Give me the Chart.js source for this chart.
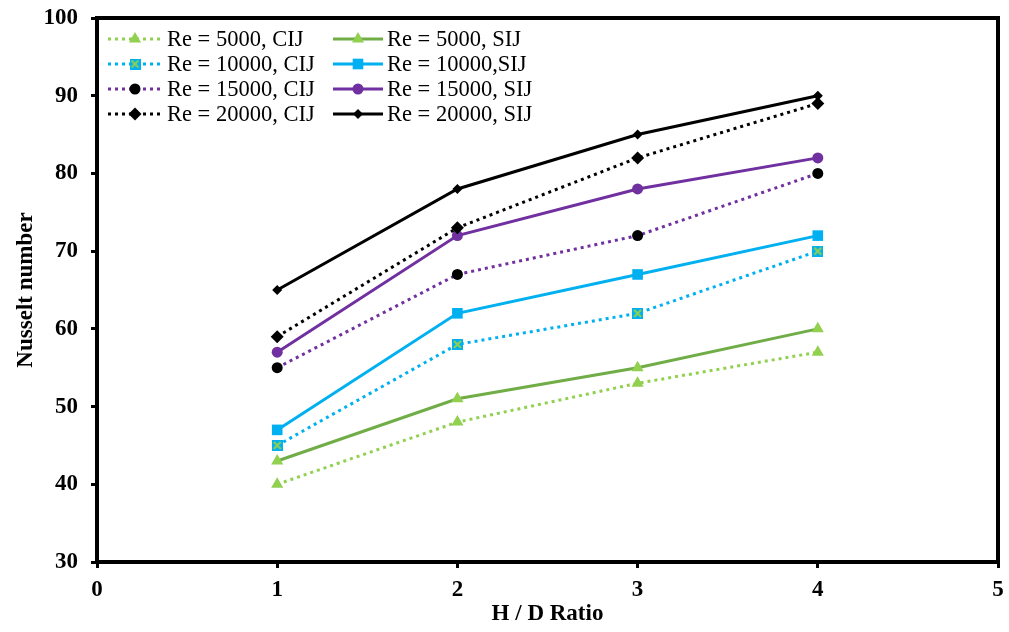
<!DOCTYPE html>
<html>
<head>
<meta charset="utf-8">
<script src="https://cdn.jsdelivr.net/npm/chart.js@4"></script>
<style>
  html, body { margin: 0; padding: 0; background: #fff; }
  #wrap { width: 1009px; height: 632px; position: relative; }
</style>
</head>
<body>
<div id="wrap"><canvas id="nuChart" width="1009" height="632"></canvas></div>
<script>
// H/D ratio positions
const hdRatio = [1, 2, 3, 4];

// Nusselt number readings (CIJ = dotted, SIJ = solid)
const re5000CIJ = [40, 48, 53, 57];
const re5000SIJ = [43, 51, 55, 60];
const re10000CIJ = [45, 58, 62, 70];
const re10000SIJ = [47, 62, 67, 72];
const re15000CIJ = [55, 67, 72, 80];
const re15000SIJ = [57, 72, 78, 82];
const re20000CIJ = [59, 73, 82, 89];
const re20000SIJ = [65, 78, 85, 90];

const xTicks = [0, 1, 2, 3, 4, 5];
const yTicks = [30, 40, 50, 60, 70, 80, 90, 100];

const FONT = "'Liberation Serif', 'Times New Roman', serif";

// square marker with green cross for Re = 10000, CIJ
function crossSquare() {
    const c = document.createElement('canvas');
    c.width = 11; c.height = 11;
    const g = c.getContext('2d');
    g.fillStyle = '#00B0F0';
    g.fillRect(0, 0, 11, 11);
    g.strokeStyle = '#92D050';
    g.lineWidth = 2;
    g.beginPath();
    g.moveTo(2, 2); g.lineTo(9, 9);
    g.moveTo(9, 2); g.lineTo(2, 9);
    g.stroke();
    return c;
}
const crossImg = crossSquare();

function pts(values) {
    return values.map((v, i) => ({ x: hdRatio[i], y: v }));
}

function series(label, values, color, markerColor, style, radius, dotted) {
    return {
        label: label,
        data: pts(values),
        borderColor: color,
        backgroundColor: markerColor,
        pointBackgroundColor: markerColor,
        pointBorderColor: markerColor,
        pointBorderWidth: 0,
        pointStyle: style,
        pointRadius: radius,
        borderWidth: 3,
        borderDash: dotted ? [3, 4] : [],
        tension: 0
    };
}

const datasets = [
    series('Re = 5000, CIJ', re5000CIJ, '#92D050', '#92D050', 'triangle', 7, true),
    series('Re = 10000, CIJ', re10000CIJ, '#00B0F0', '#00B0F0', crossImg, 6, true),
    series('Re = 15000, CIJ', re15000CIJ, '#7030A0', '#000000', 'circle', 5.5, true),
    series('Re = 20000, CIJ', re20000CIJ, '#000000', '#000000', 'rectRot', 6.5, true),
    series('Re = 5000, SIJ', re5000SIJ, '#70AD47', '#92D050', 'triangle', 7, false),
    series('Re = 10000,SIJ', re10000SIJ, '#00B0F0', '#00B0F0', 'rect', 7.5, false),
    series('Re = 15000, SIJ', re15000SIJ, '#7030A0', '#7030A0', 'circle', 5.5, false),
    series('Re = 20000, SIJ', re20000SIJ, '#000000', '#000000', 'rectRot', 5, false)
];

// frame around the plot area + the two-column legend
const framePlugin = {
    id: 'frame',
    afterDraw(chart) {
        const { ctx, chartArea: a } = chart;
        ctx.save();
        ctx.strokeStyle = '#000';
        ctx.lineWidth = 4;
        ctx.strokeRect(a.left, a.top, a.right - a.left, a.bottom - a.top);

        // legend
        const cols = [{ x1: 108, x2: 162, tx: 167 }, { x1: 333, x2: 383, tx: 387 }];
        const rowY = [39, 64, 89, 114];
        ctx.font = '22.5px ' + FONT;
        ctx.textBaseline = 'middle';
        ctx.fillStyle = '#000';
        chart.data.datasets.forEach((ds, i) => {
            const col = cols[Math.floor(i / 4)];
            const y = rowY[i % 4];
            ctx.save();
            ctx.strokeStyle = ds.borderColor;
            ctx.lineWidth = ds.borderWidth;
            ctx.setLineDash(ds.borderDash);
            ctx.beginPath();
            ctx.moveTo(col.x1, y);
            ctx.lineTo(col.x2, y);
            ctx.stroke();
            ctx.setLineDash([]);
            ctx.fillStyle = ds.pointBackgroundColor;
            ctx.strokeStyle = ds.pointBorderColor;
            Chart.helpers.drawPoint(ctx, {
                pointStyle: ds.pointStyle,
                radius: ds.pointRadius,
                borderWidth: 0,
                rotation: 0
            }, (col.x1 + col.x2) / 2, y);
            ctx.restore();
            ctx.fillStyle = '#000';
            ctx.fillText(ds.label, col.tx, y + 1);
        });
        ctx.restore();
    }
};

new Chart(document.getElementById('nuChart'), {
    type: 'line',
    data: { datasets: datasets },
    options: {
        responsive: false,
        animation: false,
        layout: { padding: { left: 8, right: 11, top: 18, bottom: 0 } },
        plugins: {
            legend: { display: false },
            tooltip: { enabled: false }
        },
        scales: {
            x: {
                type: 'linear',
                min: 0,
                max: 5,
                afterBuildTicks: (s) => { s.ticks = xTicks.map(v => ({ value: v })); },
                afterFit: (s) => { s.height = 70; s.paddingLeft = 0; s.paddingRight = 0; },
                grid: { drawOnChartArea: false, drawTicks: true, tickLength: 6, tickWidth: 3, tickColor: '#000' },
                border: { display: true, color: '#000', width: 4 },
                ticks: { color: '#000', font: { family: FONT, size: 23, weight: 'bold' }, padding: 8 },
                title: { display: true, text: 'H / D Ratio', color: '#000', font: { family: FONT, size: 23, weight: 'bold' }, padding: { top: 7 } }
            },
            y: {
                min: 30,
                max: 100,
                afterBuildTicks: (s) => { s.ticks = yTicks.map(v => ({ value: v })); },
                afterFit: (s) => { s.width = 89; s.paddingTop = 0; s.paddingBottom = 0; },
                grid: { drawOnChartArea: false, drawTicks: true, tickLength: 6, tickWidth: 3, tickColor: '#000' },
                border: { display: true, color: '#000', width: 4 },
                ticks: { color: '#000', font: { family: FONT, size: 23, weight: 'bold' }, padding: 13 },
                title: { display: true, text: 'Nusselt number', color: '#000', font: { family: FONT, size: 23, weight: 'bold' }, padding: { bottom: 0 } }
            }
        }
    },
    plugins: [framePlugin]
});
</script>
</body>
</html>
